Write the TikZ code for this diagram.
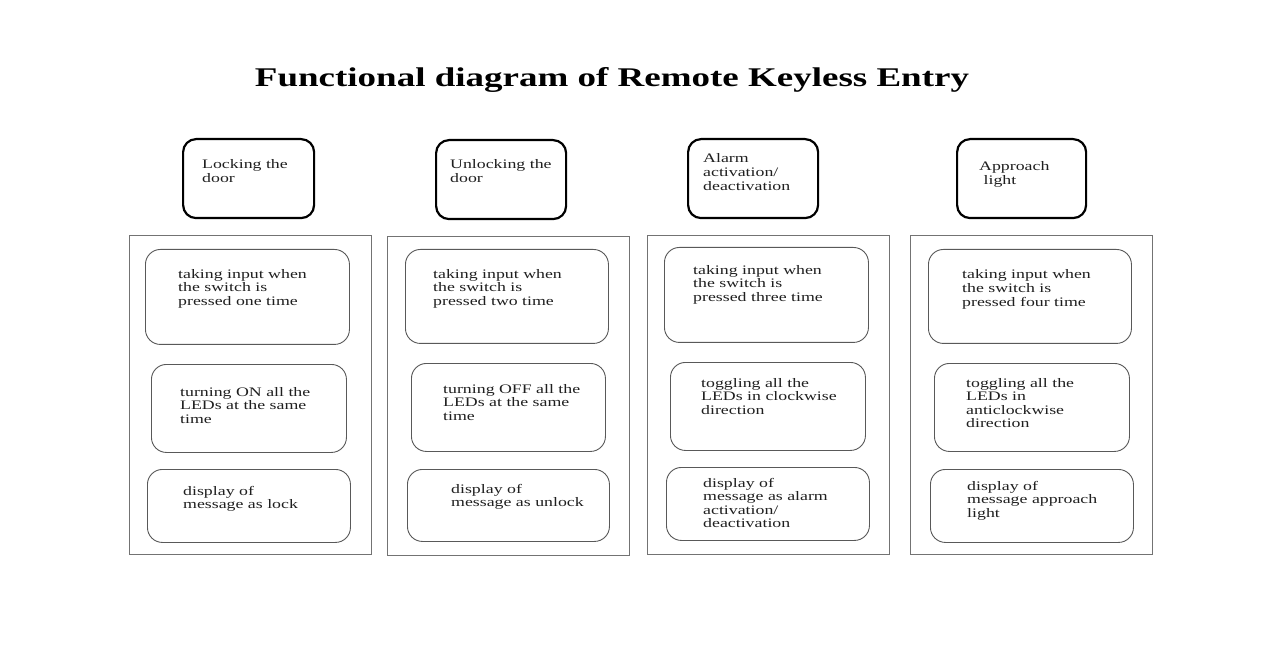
\documentclass[tikz,border=0pt]{standalone}
\usepackage{fontspec}
\setmainfont{Liberation Serif}[FakeStretch=1.37]
\begin{document}
\begin{tikzpicture}[x=1pt,y=-1pt,
  topbox/.style={draw=black,line width=2.2pt,rounded corners=13pt,inner sep=0pt,anchor=north west},
  colbox/.style={draw=black!55,line width=0.9pt,inner sep=0pt,anchor=north west},
  ibox/.style={draw=black!65,line width=0.9pt,rounded corners=15pt,inner sep=0pt,anchor=north west},
  txt/.style={anchor=base west,inner sep=0pt,align=left,text=black!88,font=\fontsize{13}{13.6}\selectfont},
  ttl/.style={anchor=base,inner sep=0pt,font=\fontsize{27}{30}\selectfont\bfseries}]
\useasboundingbox (0,0) rectangle (1280,652);
\fill[white] (0,0) rectangle (1280,652);
\node[ttl] (title) at (612,87) {Functional diagram of Remote Keyless Entry};
% top boxes
\node[topbox,minimum width=131pt,minimum height=79pt] (t1) at (182,138) {};
\node[topbox,minimum width=130pt,minimum height=79pt] (t2) at (435,139) {};
\node[topbox,minimum width=130pt,minimum height=79pt] (t3) at (687,138) {};
\node[topbox,minimum width=129pt,minimum height=79pt] (t4) at (956,138) {};
\node[txt] (t1t) at (202,182.6) {Locking the\\door};
\node[txt] (t2t) at (450,182.6) {Unlocking the\\door};
\node[txt] (t3t) at (703,190.2) {Alarm\\activation/\\deactivation};
\node[txt] (t4t) at (979,184.6) {Approach\\\ light};
% columns
\node[colbox,minimum width=242pt,minimum height=319pt] (c1) at (129,235) {};
\node[colbox,minimum width=242pt,minimum height=319pt] (c2) at (387,236) {};
\node[colbox,minimum width=242pt,minimum height=319pt] (c3) at (647,235) {};
\node[colbox,minimum width=242pt,minimum height=319pt] (c4) at (910,235) {};
% column 1
\node[ibox,minimum width=204pt,minimum height=95pt] (c1a) at (145,249) {};
\node[ibox,minimum width=195pt,minimum height=88pt] (c1b) at (151,364) {};
\node[ibox,minimum width=203pt,minimum height=73pt] (c1c) at (147,469) {};
\node[txt] (c1at) at (178,305.2) {taking input when\\the switch is\\pressed one time};
\node[txt] (c1bt) at (180,423.2) {turning ON all the\\LEDs at the same\\time};
\node[txt] (c1ct) at (183,508.6) {display of\\message as lock};
% column 2
\node[ibox,minimum width=203pt,minimum height=94pt] (c2a) at (405,249) {};
\node[ibox,minimum width=194pt,minimum height=88pt] (c2b) at (411,363) {};
\node[ibox,minimum width=202pt,minimum height=72pt] (c2c) at (407,469) {};
\node[txt] (c2at) at (433,305.2) {taking input when\\the switch is\\pressed two time};
\node[txt] (c2bt) at (443,420.2) {turning OFF all the\\LEDs at the same\\time};
\node[txt] (c2ct) at (451,506.6) {display of\\message as unlock};
% column 3
\node[ibox,minimum width=204pt,minimum height=95pt] (c3a) at (664,247) {};
\node[ibox,minimum width=195pt,minimum height=88pt] (c3b) at (670,362) {};
\node[ibox,minimum width=203pt,minimum height=73pt] (c3c) at (666,467) {};
\node[txt] (c3at) at (693,301.2) {taking input when\\the switch is\\pressed three time};
\node[txt] (c3bt) at (701,414.2) {toggling all the\\LEDs in clockwise\\direction};
\node[txt] (c3ct) at (703,527.8) {display of\\message as alarm\\activation/\\deactivation};
% column 4
\node[ibox,minimum width=203pt,minimum height=94pt] (c4a) at (928,249) {};
\node[ibox,minimum width=195pt,minimum height=88pt] (c4b) at (934,363) {};
\node[ibox,minimum width=203pt,minimum height=73pt] (c4c) at (930,469) {};
\node[txt] (c4at) at (962,306.2) {taking input when\\the switch is\\pressed four time};
\node[txt] (c4bt) at (966,427.8) {toggling all the\\LEDs in\\anticlockwise\\direction};
\node[txt] (c4ct) at (967,517.2) {display of\\message approach\\light};
\end{tikzpicture}
\end{document}
